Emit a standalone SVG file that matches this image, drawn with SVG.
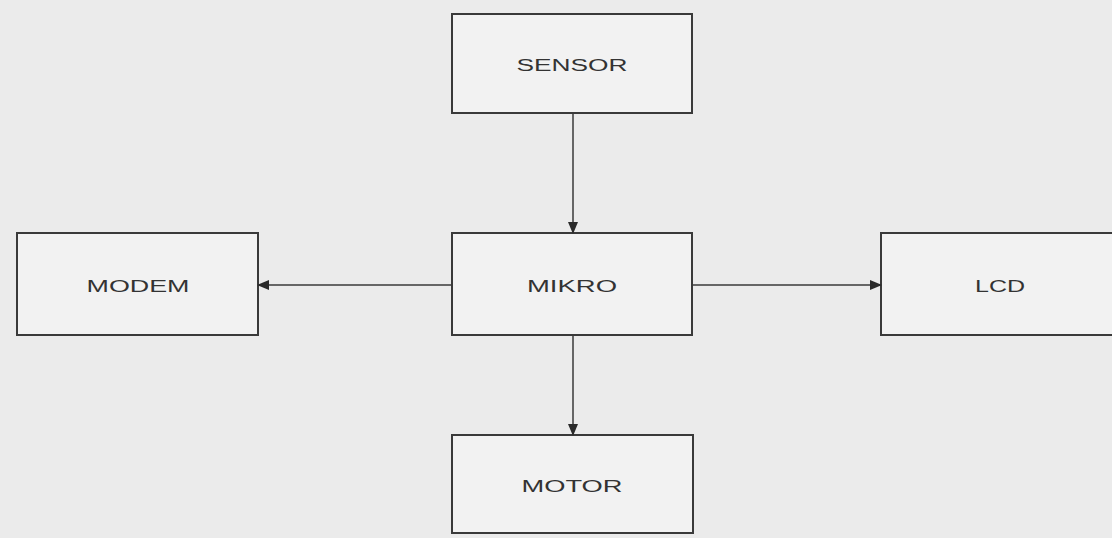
<svg xmlns="http://www.w3.org/2000/svg" width="1112" height="538" viewBox="0 0 1112 538">
<style>
.box{fill:#f2f2f2;stroke:#3a3a3a;stroke-width:2}
.lbl{font-family:"Liberation Sans",Arial,sans-serif;font-size:16px;fill:#333;text-anchor:middle}
.con{stroke:#3a3a3a;stroke-width:1.5;fill:none}
</style>
<defs>
<marker id="ah" markerWidth="12" markerHeight="10" refX="11" refY="5" orient="auto" markerUnits="userSpaceOnUse">
<path d="M0,0 L12,5 L0,10 z" fill="#2a2a2a"/>
</marker>
</defs>
<rect width="1112" height="538" fill="#ebebeb"/>
<g id="sensor"><rect class="box" x="452" y="14" width="240" height="99"/><text class="lbl" x="572" y="71" textLength="111" lengthAdjust="spacingAndGlyphs">SENSOR</text></g>
<g id="mikro"><rect class="box" x="452" y="233" width="240" height="102"/><text class="lbl" x="572" y="292" textLength="90" lengthAdjust="spacingAndGlyphs">MIKRO</text></g>
<g id="modem"><rect class="box" x="17" y="233" width="241" height="102"/><text class="lbl" x="138" y="292" textLength="103" lengthAdjust="spacingAndGlyphs">MODEM</text></g>
<g id="lcd"><rect class="box" x="881" y="233" width="240" height="102"/><text class="lbl" x="1000" y="292" textLength="50" lengthAdjust="spacingAndGlyphs">LCD</text></g>
<g id="motor"><rect class="box" x="452" y="435" width="241" height="98"/><text class="lbl" x="572" y="492" textLength="101" lengthAdjust="spacingAndGlyphs">MOTOR</text></g>
<g id="connectors">
<line class="con" x1="573" y1="113" x2="573" y2="233" marker-end="url(#ah)"/>
<line class="con" x1="452" y1="285" x2="258" y2="285" marker-end="url(#ah)"/>
<line class="con" x1="692" y1="285" x2="881" y2="285" marker-end="url(#ah)"/>
<line class="con" x1="573" y1="335" x2="573" y2="435" marker-end="url(#ah)"/>
</g>
</svg>
